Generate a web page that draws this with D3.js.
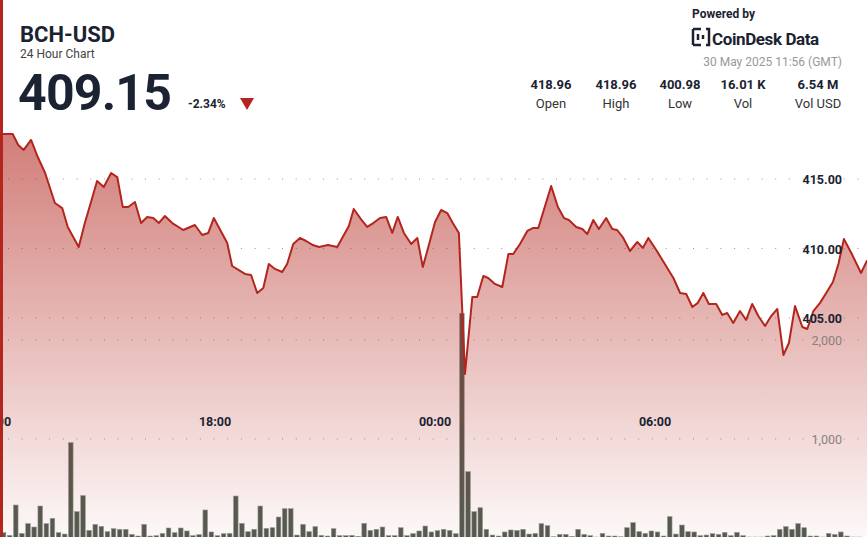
<!DOCTYPE html>
<html><head><meta charset="utf-8">
<script src="https://cdn.jsdelivr.net/npm/d3@7"></script>
<style>body{margin:0;background:#fff;font-family:Roboto,"Noto Sans",sans-serif}</style>
</head><body><div id="chart"></div>
<script>
// minutes after 12:00 (29 May) and BCH price
const priceMinutes = [0,13,29,38,47,59,70,82,98,110,119,137,147,159,167,178,190,200,209,218,229,239,249,259,268,278,290,308,327,339,349,358,380,388,399,409,419,429,439,448,458,470,478,488,499,509,520,530,545,560,569,579,587,601,609,619,630,640,650,659,669,681,691,700,709,720,730,740,749,759,769,781,789,799,807,818,830,840,848,859,871,880,889,910,921,931,939,951,961,969,979,988,1000,1010,1018,1028,1039,1051,1060,1069,1083,1096,1110,1121,1131,1141,1150,1159,1168,1180,1190,1198,1208,1219,1229,1239,1249,1260,1270,1280,1290,1299,1309,1321,1329,1339,1350,1360,1371,1380,1389,1402,1417,1427]
const prices = [418.3,418.24,418.24,417.45,417.09,417.81,416.58,415.43,413.27,412.91,411.55,410.11,411.83,413.63,414.86,414.42,415.43,415.14,412.99,412.99,413.35,411.83,412.27,412.19,411.83,412.34,411.83,411.33,411.69,410.97,411.12,412.19,410.40,408.74,408.45,408.17,408.09,406.80,407.16,408.88,408.53,408.31,408.88,410.32,410.76,410.54,410.25,410.11,410.25,410.11,410.83,411.62,412.84,411.98,411.55,411.83,412.19,412.27,411.12,412.27,411.12,410.32,410.76,408.67,410.11,411.91,412.77,412.55,411.83,411.12,400.98,406.51,406.51,408.02,407.88,407.45,407.23,409.60,409.60,410.32,411.26,411.47,411.47,414.50,412.99,412.19,412.05,411.55,411.40,411.04,412.05,411.40,412.19,411.40,411.33,410.76,409.82,410.47,410.04,410.76,409.82,408.88,407.88,406.80,406.73,405.79,406.09,406.80,406.01,406.01,405.22,405.36,404.64,405.50,404.86,406.01,405.14,404.42,405.14,405.65,402.34,403.20,405.86,404.35,404.21,405.50,406.09,406.80,407.59,408.88,410.68,409.60,408.24,409.15]
// volume per 10 minute bucket, first bucket at 12:15
const volumes = [54,27,333,47,145,111,323,145,199,54,40,963,266,428,77,138,118,64,94,88,88,37,20,138,20,24,47,101,54,101,71,24,34,283,61,24,44,47,424,148,64,88,323,98,104,212,296,296,30,138,64,115,27,20,94,24,24,27,17,148,77,88,111,24,24,104,24,44,71,121,61,74,88,77,44,2270,670,266,306,88,30,20,61,81,77,88,40,47,145,125,13,37,37,17,88,37,24,10,47,20,20,13,104,155,64,47,71,61,20,216,40,131,64,61,24,30,44,37,57,24,57,24,10,10,10,20,24,88,115,88,145,104,20,20,10,47,37,61,20,10,10]
const priceTicks = [405, 410, 415]
const volTicks = [1000, 2000]
const timeTicks = [{m: 0, label: "12:00"}, {m: 360, label: "18:00"}, {m: 720, label: "00:00"}, {m: 1080, label: "06:00"}]
const stats = [["418.96","Open"],["418.96","High"],["400.98","Low"],["16.01 K","Vol"],["6.54 M","Vol USD"]]

const width = 867, height = 537
const red = "#b3261e", dark = "#1b2332"

const svg = d3.select("#chart").append("svg").attr("width", width).attr("height", height)

const x = d3.scaleLinear().domain([0, 1440]).range([-5, -5 + 36.67 * 24])
const y = d3.scaleLinear().domain([405, 415]).range([318, 179])
const yv = d3.scaleLinear().domain([0, 1000]).range([538, 439])

const defs = svg.append("defs")
const grad = defs.append("linearGradient").attr("id", "fillGrad")
    .attr("gradientUnits", "userSpaceOnUse").attr("x1", 0).attr("x2", 0).attr("y1", 130).attr("y2", 537)
grad.append("stop").attr("offset", "0%").attr("stop-color", red).attr("stop-opacity", 0.6)
grad.append("stop").attr("offset", "100%").attr("stop-color", red).attr("stop-opacity", 0.03)
defs.append("clipPath").attr("id", "clip").append("rect").attr("x", 3).attr("y", 0).attr("width", width).attr("height", height)

// grid
const grid = svg.append("g")
;[...priceTicks.map(y), ...volTicks.map(yv)].forEach(gy => {
    grid.append("line").attr("x1", 8).attr("x2", 866).attr("y1", gy).attr("y2", gy)
        .attr("stroke", "#999").attr("stroke-width", 1.2).attr("stroke-dasharray", "1,12.7")
})

const plot = svg.append("g").attr("clip-path", "url(#clip)")

// volume bars
plot.selectAll(".bar").data(volumes).enter().append("rect")
    .attr("x", (d, i) => x(14 + 10 * i) - 2.3)
    .attr("width", 4.6)
    .attr("y", d => yv(d))
    .attr("height", d => yv(0) - yv(d))
    .attr("fill", "#525c52").attr("stroke", "#9aa09a").attr("stroke-width", 0.6)

const pts = priceMinutes.map((m, i) => [m, prices[i]])
plot.append("path").datum(pts)
    .attr("fill", "url(#fillGrad)")
    .attr("d", d3.area().x(d => x(d[0])).y0(height).y1(d => y(d[1])))
plot.append("path").datum(pts)
    .attr("fill", "none").attr("stroke", red).attr("stroke-width", 2).attr("stroke-linejoin", "round")
    .attr("d", d3.line().x(d => x(d[0])).y(d => y(d[1])))

// axis labels
svg.selectAll(".pl").data(priceTicks).enter().append("text")
    .attr("x", 842).attr("y", d => y(d) + 5).attr("text-anchor", "end")
    .attr("font-size", 12.5).attr("font-weight", "bold").attr("fill", dark)
    .text(d => d.toFixed(2))
svg.selectAll(".vl").data(volTicks).enter().append("text")
    .attr("x", 842).attr("y", d => yv(d) + 5).attr("text-anchor", "end")
    .attr("font-size", 12.5).attr("fill", "#8a8080")
    .text(d => d3.format(",")(d))
svg.selectAll(".tl").data(timeTicks).enter().append("text")
    .attr("x", d => x(d.m)).attr("y", 426).attr("text-anchor", "middle")
    .attr("font-size", 12.5).attr("font-weight", "bold").attr("fill", dark)
    .text(d => d.label)

// left accent bar
svg.append("rect").attr("x", 0).attr("y", 0).attr("width", 3).attr("height", height).attr("fill", red)

// header
svg.append("text").attr("x", 20).attr("y", 42).attr("font-size", 22).attr("font-weight", "bold").attr("fill", dark).text("BCH-USD")
svg.append("text").attr("x", 20).attr("y", 58).attr("font-size", 12).attr("fill", "#444").text("24 Hour Chart")
svg.append("text").attr("x", 18).attr("y", 110).attr("font-size", 50).attr("font-weight", "bold").attr("fill", dark).attr("letter-spacing", -0.8).text("409.15")
svg.append("text").attr("x", 188).attr("y", 108).attr("font-size", 12).attr("font-weight", "bold").attr("fill", dark).text("-2.34%")
svg.append("path").attr("d", "M240,98 L254,98 L247,110 Z").attr("fill", red)

svg.append("text").attr("x", 692).attr("y", 18).attr("font-size", 12).attr("font-weight", "bold").attr("fill", dark).text("Powered by")
const logo = svg.append("g").attr("transform", "translate(693,29)")
logo.append("path").attr("d", "M0,0 H8 M0,0 V16 M0,16 H8 M13,0 H16 V16 H13 M5,5 V11 M10,6 V10")
    .attr("stroke", dark).attr("stroke-width", 2.5).attr("fill", "none")
svg.append("text").attr("x", 712).attr("y", 45).attr("font-size", 17).attr("font-weight", "bold").attr("fill", dark).attr("letter-spacing", -0.4).text("CoinDesk Data")
svg.append("text").attr("x", 842).attr("y", 66).attr("text-anchor", "end").attr("font-size", 12).attr("fill", "#999").text("30 May 2025 11:56 (GMT)")

const statX = [551, 616, 680, 743, 818]
stats.forEach((s, i) => {
    svg.append("text").attr("x", statX[i]).attr("y", 89).attr("text-anchor", "middle").attr("font-size", 13).attr("font-weight", "bold").attr("fill", dark).text(s[0])
    svg.append("text").attr("x", statX[i]).attr("y", 108).attr("text-anchor", "middle").attr("font-size", 13).attr("fill", "#333").text(s[1])
})
</script></body></html>
